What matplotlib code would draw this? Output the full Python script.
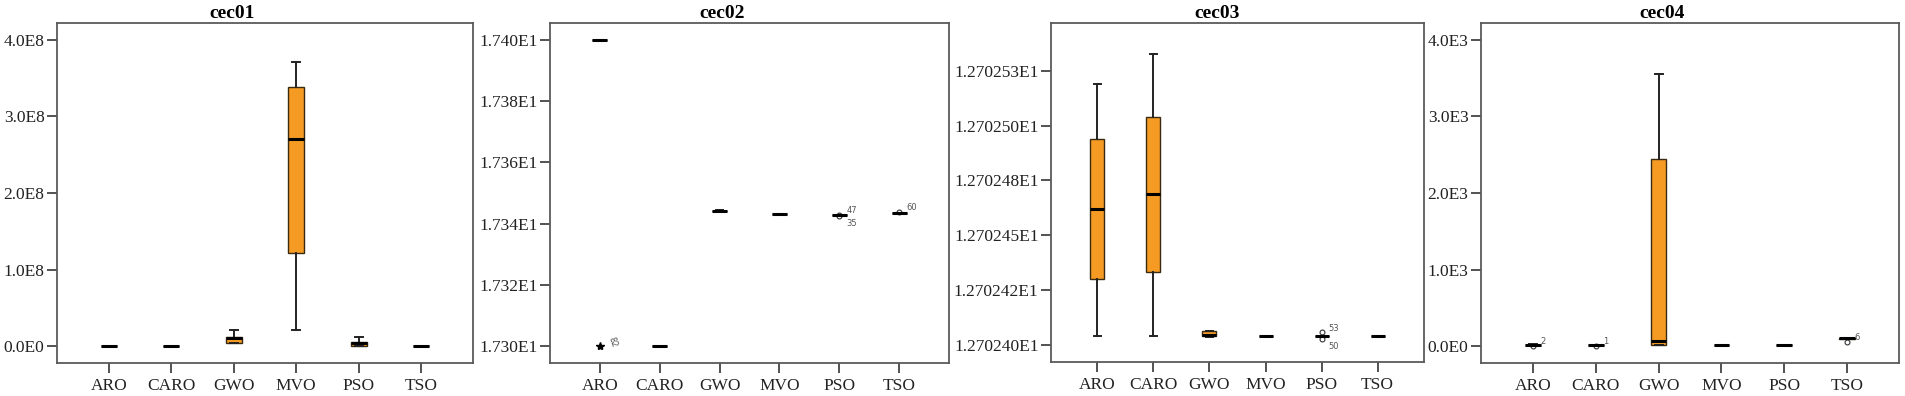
import matplotlib
matplotlib.use("Agg")
import matplotlib.pyplot as plt

plt.rcParams['font.family'] = ['Liberation Serif', 'DejaVu Serif']

categories = ["ARO", "CARO", "GWO", "MVO", "PSO", "TSO"]
titles = ["cec01", "cec02", "cec03", "cec04"]

# box statistics per panel: whislo, q1, med, q3, whishi
cec01_whislo = [0.0, 0.0, 0.35e7, 0.21e8, 0.0, 0.0]
cec01_q1 = [0.0, 0.0, 0.40e7, 1.22e8, 0.05e7, 0.0]
cec01_med = [0.0, 0.0, 1.00e7, 2.70e8, 0.35e7, 0.0]
cec01_q3 = [0.0, 0.0, 1.15e7, 3.39e8, 0.55e7, 0.0]
cec01_whishi = [0.0, 0.0, 2.10e7, 3.716e8, 1.13e7, 0.0]

cec02_whislo = [17.400, 17.300, 17.3439, 17.3430, 17.3427, 17.3436]
cec02_q1 = [17.400, 17.300, 17.3440, 17.3430, 17.3427, 17.3436]
cec02_med = [17.400, 17.300, 17.3441, 17.3430, 17.3427, 17.3436]
cec02_q3 = [17.400, 17.300, 17.3442, 17.3430, 17.3427, 17.3436]
cec02_whishi = [17.400, 17.300, 17.3443, 17.3430, 17.3427, 17.3436]

cec03_whislo = [12.702404, 12.702404, 12.7024035, 12.702404, 12.702404, 12.702404]
cec03_q1 = [12.702430, 12.702433, 12.702404, 12.702404, 12.702404, 12.702404]
cec03_med = [12.702462, 12.702469, 12.7024045, 12.702404, 12.702404, 12.702404]
cec03_q3 = [12.702494, 12.702504, 12.702406, 12.702404, 12.702404, 12.702404]
cec03_whishi = [12.702519, 12.702533, 12.702406, 12.702404, 12.702404, 12.702404]

cec04_whislo = [10, 6, 13, 13, 13, 95]
cec04_q1 = [12, 8, 13, 13, 13, 98]
cec04_med = [15, 10, 69, 13, 13, 100]
cec04_q3 = [18, 12, 2440, 13, 13, 103]
cec04_whishi = [20, 14, 3556, 13, 13, 105]

# outliers: (category index, value, label, marker)
cec01_out = []
cec02_out = [(0, 17.300, "82", "*"), (4, 17.3428, "47", "o"), (4, 17.3426, "35", "o"),
             (5, 17.3438, "60", "o")]
cec03_out = [(4, 12.7024055, "53", "o"), (4, 12.7024025, "50", "o")]
cec04_out = [(0, 3, "2", "o"), (1, 0, "1", "o"), (5, 55, "6", "o")]

# ticks
cec01_ticks = [0, 1e8, 2e8, 3e8, 4e8]
cec01_ticklabels = ["0.0E0", "1.0E8", "2.0E8", "3.0E8", "4.0E8"]
cec02_ticks = [17.30, 17.32, 17.34, 17.36, 17.38, 17.40]
cec02_ticklabels = ["1.730E1", "1.732E1", "1.734E1", "1.736E1", "1.738E1", "1.740E1"]
cec03_ticks = [12.7024, 12.702425, 12.70245, 12.702475, 12.7025, 12.702525]
cec03_ticklabels = ["1.270240E1", "1.270242E1", "1.270245E1", "1.270248E1",
                    "1.270250E1", "1.270253E1"]
cec04_ticks = [0, 1e3, 2e3, 3e3, 4e3]
cec04_ticklabels = ["0.0E0", "1.0E3", "2.0E3", "3.0E3", "4.0E3"]

panels = [
    (cec01_whislo, cec01_q1, cec01_med, cec01_q3, cec01_whishi, cec01_out,
     cec01_ticks, cec01_ticklabels, (-0.222e8, 4.222e8)),
    (cec02_whislo, cec02_q1, cec02_med, cec02_q3, cec02_whishi, cec02_out,
     cec02_ticks, cec02_ticklabels, (17.2944, 17.4056)),
    (cec03_whislo, cec03_q1, cec03_med, cec03_q3, cec03_whishi, cec03_out,
     cec03_ticks, cec03_ticklabels, (12.702392, 12.702547)),
    (cec04_whislo, cec04_q1, cec04_med, cec04_q3, cec04_whishi, cec04_out,
     cec04_ticks, cec04_ticklabels, (-222, 4222)),
]

W, H = 1905, 396
# axes frames in pixels: left, right, top, bottom
frames = [(57, 473, 23, 363), (550, 949, 23, 363), (1051, 1424, 23, 362), (1481, 1899, 23, 363)]
title_x = [232, 722, 1217, 1662]

fig = plt.figure(figsize=(W / 100, H / 100), dpi=100)
orange = "#F59B23"
frame_color = "#5a5a5a"

for i, (p, fr) in enumerate(zip(panels, frames)):
    wl, q1, med, q3, wh, outs, ticks, ticklabels, ylim = p
    l, r, t, b = fr
    ax = fig.add_axes([l / W, (H - b) / H, (r - l) / W, (b - t) / H])
    stats = []
    for j, c in enumerate(categories):
        stats.append(dict(label=c, whislo=wl[j], q1=q1[j], med=med[j], q3=q3[j],
                          whishi=wh[j], fliers=[]))
    ax.bxp(stats, positions=range(len(categories)), widths=0.25, capwidths=0.125,
           patch_artist=True, showfliers=False,
           boxprops=dict(facecolor=orange, edgecolor="#3a2a10", linewidth=1.0),
           medianprops=dict(color="black", linewidth=2.2),
           whiskerprops=dict(color="#222222", linewidth=1.4),
           capprops=dict(color="#222222", linewidth=1.4))
    yr = ylim[1] - ylim[0]
    for (ci, val, lab, mk) in outs:
        if mk == "*":
            ax.plot(ci, val, marker="*", color="black", markersize=6, linestyle="none")
        else:
            ax.plot(ci, val, marker="o", markerfacecolor="white", markeredgecolor="#333333",
                    markersize=3.5, markeredgewidth=0.8, linestyle="none")
        dy = 0.012 * yr
        siblings = [o for o in outs if o[0] == ci]
        if len(siblings) > 1 and val == min(o[1] for o in siblings):
            dy = -0.022 * yr
        ax.text(ci + 0.12, val + dy, lab, fontsize=6, color="#555555",
                family="DejaVu Sans", ha="left", va="center",
                rotation=-70 if mk == "*" else 0)
    ax.set_xlim(-0.83, 5.83)
    ax.set_ylim(*ylim)
    ax.set_yticks(ticks)
    ax.set_yticklabels(ticklabels)
    ax.set_xticks(range(len(categories)))
    ax.set_xticklabels(categories)
    ax.tick_params(axis="both", direction="out", length=7, width=1.3, color="#444444",
                   labelsize=12.5, labelcolor="#222222", pad=2)
    ax.tick_params(axis="x", pad=4)
    for s in ax.spines.values():
        s.set_color(frame_color)
        s.set_linewidth(1.3)
    fig.text(title_x[i] / W, 1 - 13 / H, titles[i], fontsize=14, fontweight="bold",
             ha="center", va="center")

fig.savefig("out.png", dpi=100)
